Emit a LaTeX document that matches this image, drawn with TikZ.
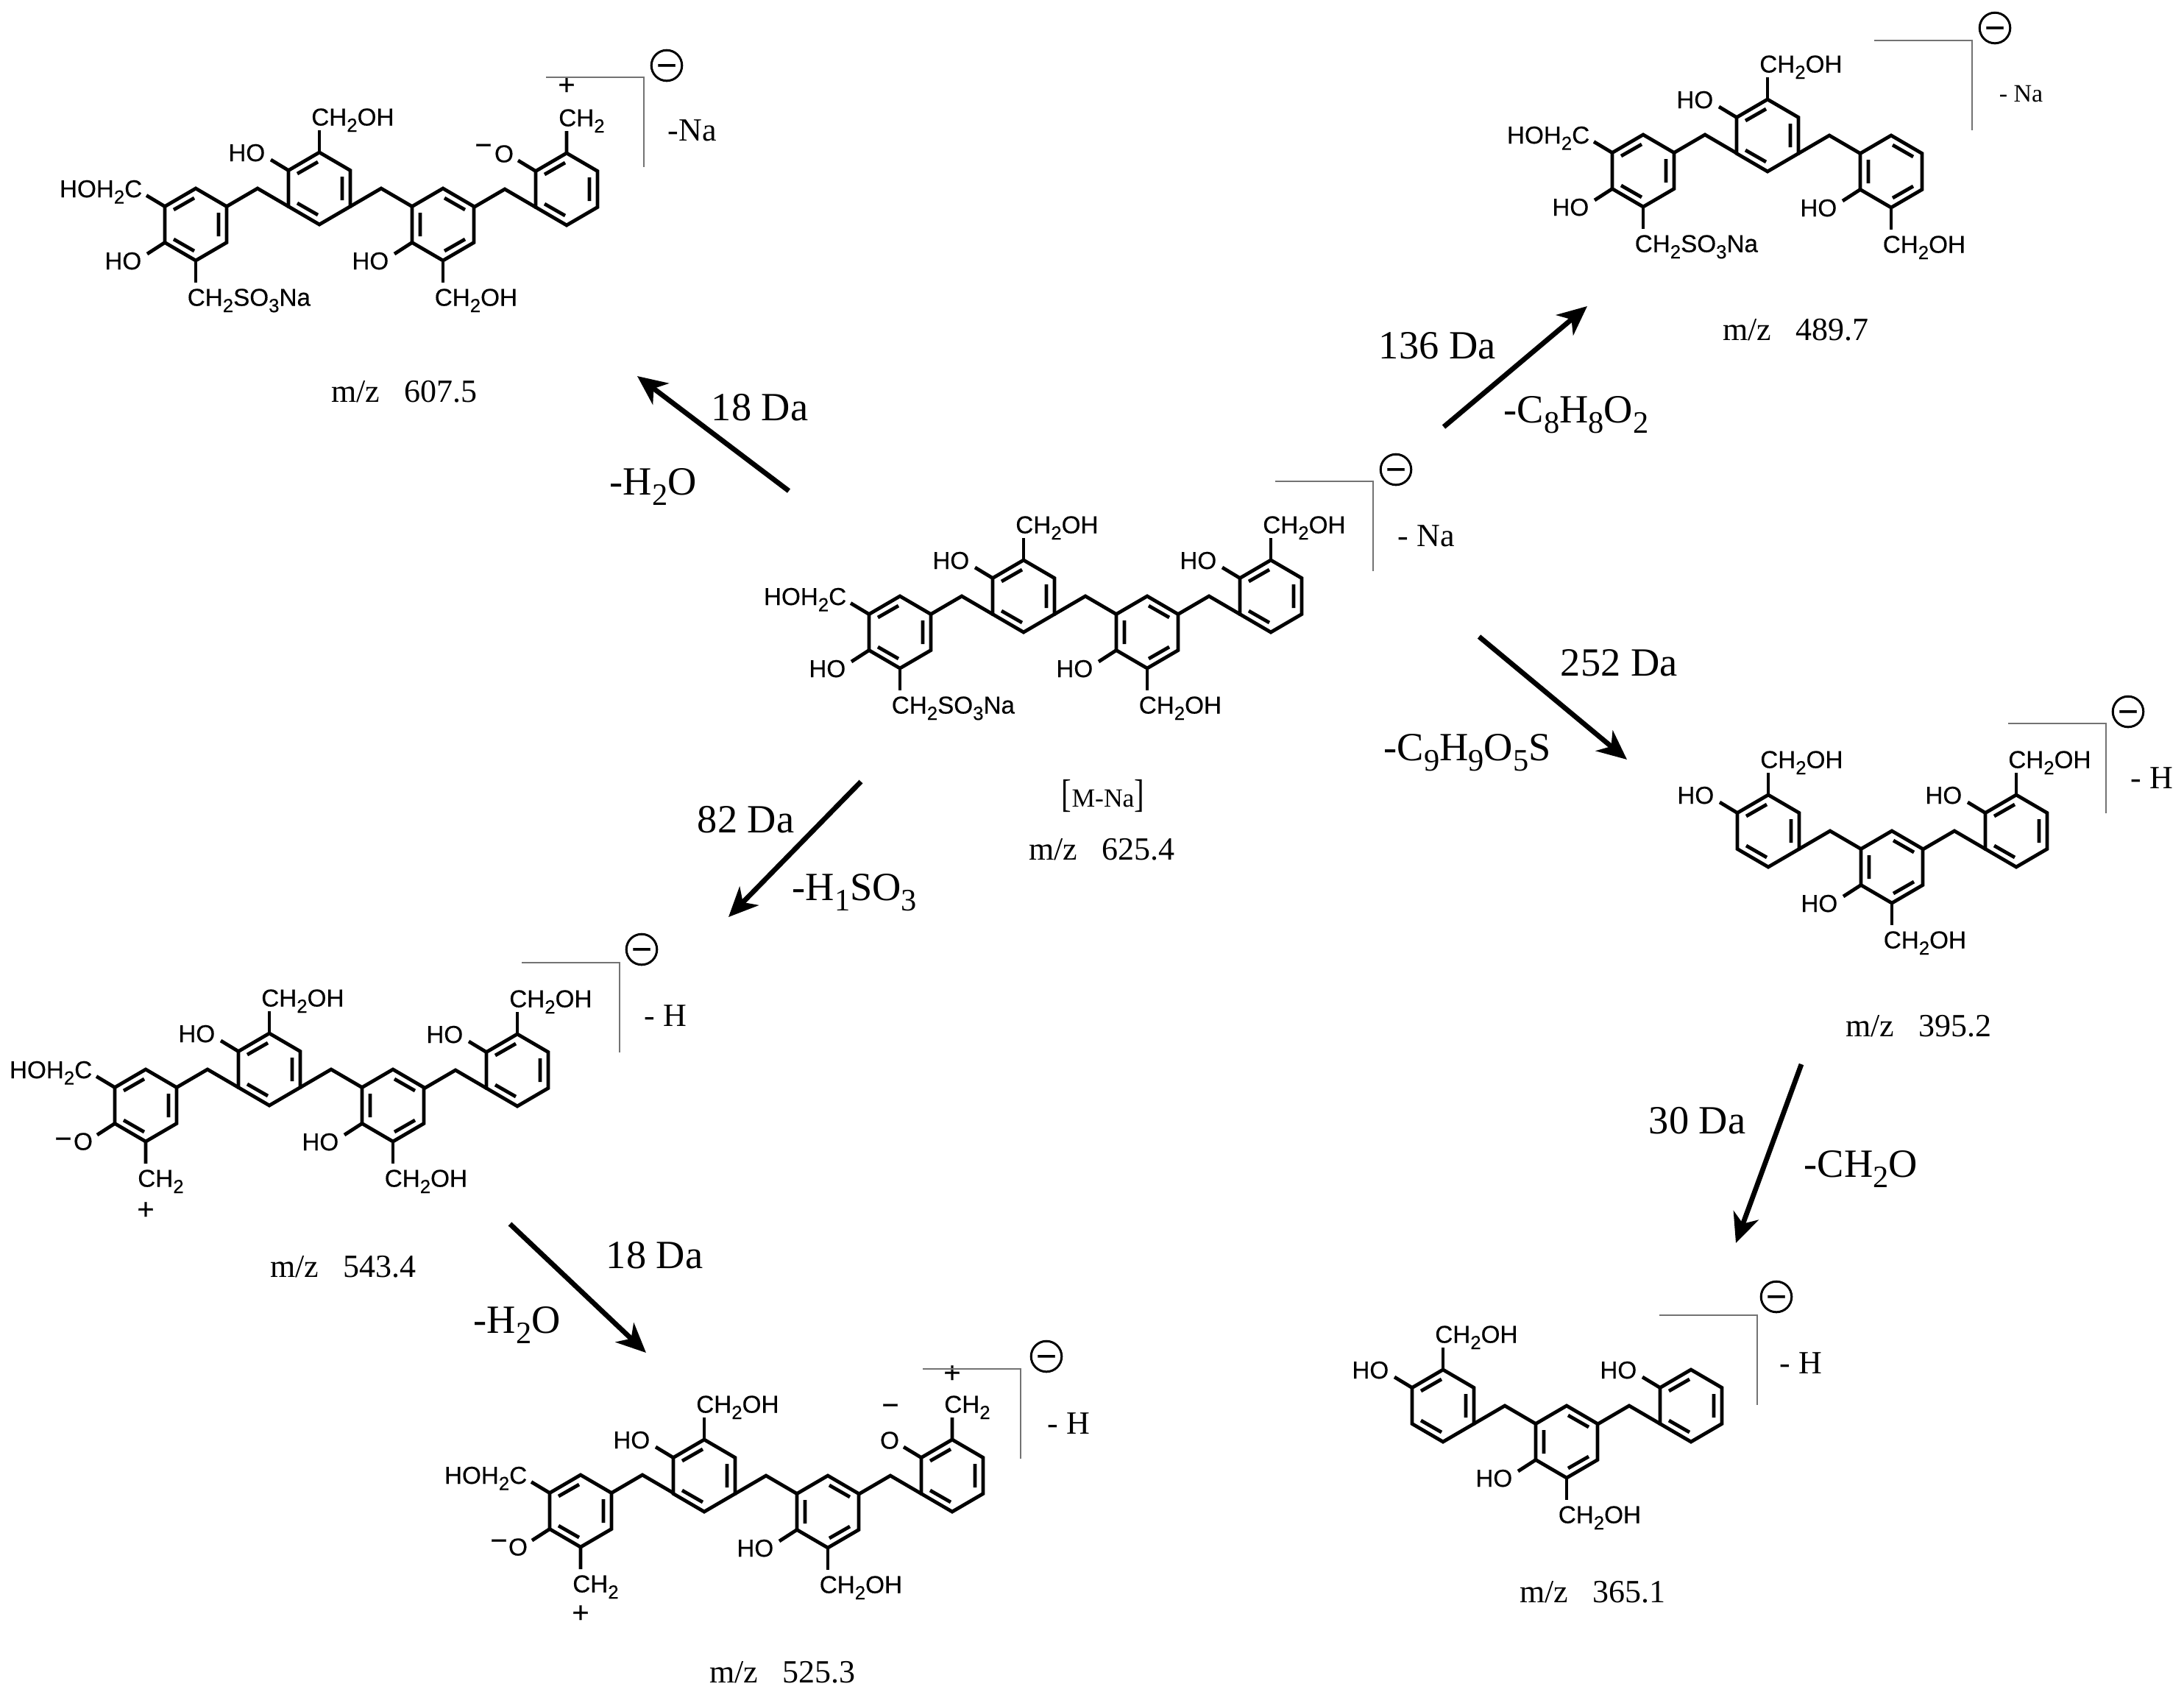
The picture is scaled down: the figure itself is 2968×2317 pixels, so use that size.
\documentclass[tikz,border=0pt]{standalone}
\usepackage{fontspec}
\setmainfont{Liberation Serif}
\setsansfont[FakeBold=0.35]{Liberation Sans}
\usetikzlibrary{arrows.meta}
\newcommand{\low}[1]{\raisebox{-.26em}{\scalebox{.78}{#1}}}
\tikzset{
  bond/.style={line width=1.2pt},
  hookline/.style={line width=.35pt,draw=black!55},
  fragarrow/.style={line width=1.7pt,-{Stealth[length=10pt,width=9pt,inset=3pt]}},
  atom/.style={font=\sffamily\fontsize{8.3}{10}\selectfont,inner sep=0pt},
  chargemark/.style={font=\sffamily\fontsize{10}{10}\selectfont,inner sep=0pt},
  lossnote/.style={font=\fontsize{13.6}{16}\selectfont,inner sep=0pt,anchor=base west},
  massnote/.style={font=\fontsize{11}{13}\selectfont,inner sep=0pt,anchor=base},
  lostion/.style={font=\fontsize{11}{13}\selectfont,inner sep=0pt,anchor=base west},
  anion/.style={circle,draw,line width=.75pt,minimum size=10.4pt,inner sep=0pt,
    font=\sffamily\fontsize{12}{12}\selectfont},
  ringone/.pic={
    \draw[bond] (-42,-24.5) -- (0,-49) -- (42,-24.5) -- (42,24.5) -- (0,49) -- (-42,24.5) -- cycle;
    \draw[bond] (-30,-20) -- (-2,-36) (31,-16) -- (31,16) (-30,20) -- (-2,36);
  },
  ringtwo/.pic={
    \draw[bond] (-42,-24.5) -- (0,-49) -- (42,-24.5) -- (42,24.5) -- (0,49) -- (-42,24.5) -- cycle;
    \draw[bond] (-31,-16) -- (-31,16) (30,-20) -- (2,-36) (30,20) -- (2,36);
  },
  bridge/.pic={\draw[bond] (0,0) -- (42,-24.5) -- (84,0);},
  phenoltop/.pic={
    \draw[bond] (-42,-24.5) -- (-66,-39);
    \node[atom,anchor=base east] (-ho) at (-73,-37) {HO};
  },
  phenolbot/.pic={
    \draw[bond] (-42,24.5) -- (-66,40);
    \node[atom,anchor=base east] (-ho) at (-73,61) {HO};
  },
  carbinoltop/.pic={
    \draw[bond] (0,-49) -- (0,-79);
    \node[atom,anchor=base west] (-ch) at (-11.5,-85.5) {CH\low{2}OH};
  },
  carbinolbot/.pic={
    \draw[bond] (0,49) -- (0,79);
    \node[atom,anchor=base west] (-ch) at (-12,110.5) {CH\low{2}OH};
  },
  sulfonate/.pic={
    \draw[bond] (0,49) -- (0,79);
    \node[atom,anchor=base west] (-so) at (-12,110.5) {CH\low{2}SO\low{3}Na};
  },
  oxidetop/.pic={
    \draw[bond] (-42,-24.5) -- (-66,-39) (0,-49) -- (0,-79);
    \node[atom] (-o) at (-85,-48) {O};
    \node[atom,anchor=base west] (-ch) at (-11.5,-85.5) {CH\low{2}};
  },
  oxidebot/.pic={
    \draw[bond] (-42,24.5) -- (-66,40) (0,49) -- (0,79);
    \node[atom] (-o) at (-85,49) {O};
    \node[atom,anchor=base west] (-ch) at (-11.5,110.5) {CH\low{2}};
  },
  leftend/.pic={
    \pic (-r) at (0,0) {ringone};
    \draw[bond] (-42,-24.5) -- (-67,-39.5);
    \node[atom,anchor=base east] (-hm) at (-72,-37) {HOH\low{2}C};
    \pic (-b) at (42,-24.5) {bridge};
  },
  tailend/.pic={
    \pic (-b) at (-126,24.5) {bridge};
    \pic (-r) at (0,0) {ringone};
  },
  pair/.pic={
    \pic (-r) at (0,0) {ringone};
    \pic (-p) at (0,0) {phenoltop};
    \pic (-c) at (0,0) {carbinoltop};
    \pic (-b) at (42,24.5) {bridge};
    \pic (-s) at (168,49) {ringtwo};
    \pic (-q) at (168,49) {phenolbot};
    \pic (-d) at (168,49) {carbinolbot};
  },
  hook/.pic={\draw[hookline] (-133,0) -- (0,0) -- (0,122);}
}
\begin{document}
\begin{tikzpicture}[x=.25pt,y=-.25pt]
  \useasboundingbox (0,0) rectangle (2968,2317);

  \pic (mainl) at (1223,859) {leftend};
  \pic (mainq) at (1223,859) {phenolbot};
  \pic (mains) at (1223,859) {sulfonate};
  \pic (mainp) at (1391,810) {pair};
  \pic (maint) at (1727,810) {tailend};
  \pic (mainh) at (1727,810) {phenoltop};
  \pic (mainc) at (1727,810) {carbinoltop};
  \pic (mainf) at (1866,654) {hook};
  \node[anion] (mainion) at (1897,638) {\raisebox{-3.95pt}[0pt][0pt]{−}};
  \node[lostion] (mainna) at (1899,742) {- Na};
  \node[massnote,font=\fontsize{8.9}{11}\selectfont] (mainlab) at (1499,1096) {\scalebox{1.15}[1.5]{[}M-Na\scalebox{1.15}[1.5]{]}};
  \node[massnote] (mainmz) at (1497,1168) {m/z\ \ \ 625.4};

  \pic (wl) at (266,305) {leftend};
  \pic (wq) at (266,305) {phenolbot};
  \pic (ws) at (266,305) {sulfonate};
  \pic (wp) at (434,256) {pair};
  \pic (wt) at (770,257) {tailend};
  \pic (wo) at (770,257) {oxidetop};
  \node[chargemark] (wminus) at (657,203) {−};
  \node[chargemark] (wplus) at (770,117) {+};
  \pic (wf) at (875,105) {hook};
  \node[anion] (wion) at (906,89) {\raisebox{-3.95pt}[0pt][0pt]{−}};
  \node[lostion] (wna) at (907,191) {-Na};
  \node[massnote] (wmz) at (549,546) {m/z\ \ \ 607.5};

  \pic (sl) at (198,1502) {leftend};
  \pic (so) at (198,1502) {oxidebot};
  \node[chargemark] (sminus) at (86,1553) {−};
  \node[chargemark] (splus) at (198,1645) {+};
  \pic (sp) at (366,1453) {pair};
  \pic (st) at (703,1454) {tailend};
  \pic (sh) at (703,1454) {phenoltop};
  \pic (sc) at (703,1454) {carbinoltop};
  \pic (sf) at (842,1308) {hook};
  \node[anion] (sion) at (872,1290) {\raisebox{-3.95pt}[0pt][0pt]{−}};
  \node[lostion] (shy) at (875,1394) {- H};
  \node[massnote] (smz) at (466,1735) {m/z\ \ \ 543.4};

  \pic (bl) at (789,2053) {leftend};
  \pic (bo) at (789,2053) {oxidebot};
  \node[chargemark] (bminus) at (678,2099) {−};
  \node[chargemark] (bplus) at (789,2193) {+};
  \pic (bp) at (957,2005) {pair};
  \pic (bt) at (1294,2005) {tailend};
  \pic (bx) at (1294,2005) {oxidetop};
  \node[chargemark] (bminusb) at (1210,1915) {−};
  \node[chargemark] (bplusb) at (1294,1867) {+};
  \pic (bf) at (1387,1860) {hook};
  \node[anion] (bion) at (1422,1843) {\raisebox{-3.95pt}[0pt][0pt]{−}};
  \node[lostion] (bhy) at (1423,1948) {- H};
  \node[massnote] (bmz) at (1063,2286) {m/z\ \ \ 525.3};

  \pic (el) at (2233,232) {leftend};
  \pic (eq) at (2233,232) {phenolbot};
  \pic (es) at (2233,232) {sulfonate};
  \pic (ep) at (2402,184) {pair};
  \pic (ef) at (2680,55) {hook};
  \node[anion] (eion) at (2711,38) {\raisebox{-3.95pt}[0pt][0pt]{−}};
  \node[lostion,font=\fontsize{8.5}{10}\selectfont] (ena) at (2716,138) {- Na};
  \node[massnote] (emz) at (2440,462) {m/z\ \ \ 489.7};

  \pic (rp) at (2403,1129) {pair};
  \pic (rt) at (2740,1129) {tailend};
  \pic (rh) at (2740,1129) {phenoltop};
  \pic (rc) at (2740,1129) {carbinoltop};
  \pic (rf) at (2862,983) {hook};
  \node[anion] (rion) at (2892,967) {\raisebox{-3.95pt}[0pt][0pt]{−}};
  \node[lostion] (rhy) at (2895,1071) {- H};
  \node[massnote] (rmz) at (2607,1408) {m/z\ \ \ 395.2};

  \pic (lp) at (1961,1910) {pair};
  \pic (lt) at (2298,1910) {tailend};
  \pic (lh) at (2298,1910) {phenoltop};
  \pic (lf) at (2388,1787) {hook};
  \node[anion] (lion) at (2414,1762) {\raisebox{-3.95pt}[0pt][0pt]{−}};
  \node[lostion] (lhy) at (2418,1866) {- H};
  \node[massnote] (lmz) at (2164,2177) {m/z\ \ \ 365.1};

  \coordinate (wfrom) at (1072,667);
  \coordinate (wto) at (866,511);
  \coordinate (efrom) at (1962,580);
  \coordinate (eto) at (2157,416);
  \coordinate (rfrom) at (2010,865);
  \coordinate (rto) at (2211,1032);
  \coordinate (sfrom) at (1170,1062);
  \coordinate (sto) at (990,1246);
  \coordinate (bfrom) at (693,1663);
  \coordinate (bto) at (878,1838);
  \coordinate (lfrom) at (2448,1446);
  \coordinate (lto) at (2359,1689);
  \draw[fragarrow] (wfrom) -- (wto);
  \draw[fragarrow] (efrom) -- (eto);
  \draw[fragarrow] (rfrom) -- (rto);
  \draw[fragarrow] (sfrom) -- (sto);
  \draw[fragarrow] (bfrom) -- (bto);
  \draw[fragarrow] (lfrom) -- (lto);

  \node[lossnote] (wda) at (966,571) {18 Da};
  \node[lossnote] (wlo) at (828,672) {-H\low{2}O};
  \node[lossnote] (eda) at (1873,487) {136 Da};
  \node[lossnote] (elo) at (2043,574) {-C\low{8}H\low{8}O\low{2}};
  \node[lossnote] (rda) at (2120,918) {252 Da};
  \node[lossnote] (rlo) at (1880,1033) {-C\low{9}H\low{9}O\low{5}S};
  \node[lossnote] (sda) at (947,1131) {82 Da};
  \node[lossnote] (slo) at (1076,1223) {-H\low{1}SO\low{3}};
  \node[lossnote] (bda) at (823,1723) {18 Da};
  \node[lossnote] (blo) at (643,1811) {-H\low{2}O};
  \node[lossnote] (lda) at (2240,1540) {30 Da};
  \node[lossnote] (llo) at (2451,1599) {-CH\low{2}O};
\end{tikzpicture}
\end{document}
